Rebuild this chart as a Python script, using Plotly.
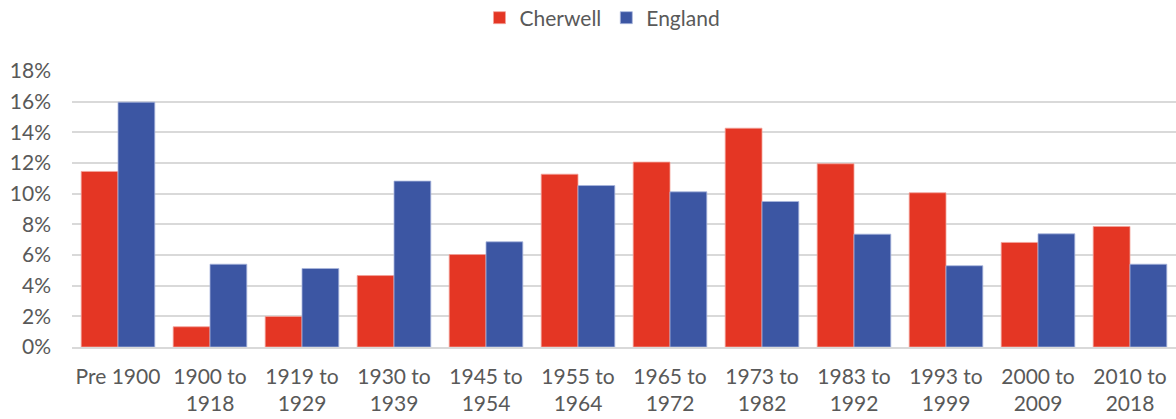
import plotly.graph_objects as go

categories = ["Pre 1900", "1900 to<br>1918", "1919 to<br>1929", "1930 to<br>1939", "1945 to<br>1954",
              "1955 to<br>1964", "1965 to<br>1972", "1973 to<br>1982", "1983 to<br>1992",
              "1993 to<br>1999", "2000 to<br>2009", "2010 to<br>2018"]
cherwell = [11.45, 1.32, 1.99, 4.66, 6.03, 11.27, 12.06, 14.27, 11.95, 10.06, 6.82, 7.86]
england = [15.97, 5.40, 5.12, 10.82, 6.86, 10.53, 10.12, 9.49, 7.36, 5.30, 7.38, 5.40]
y_ticks = [0, 2, 4, 6, 8, 10, 12, 14, 16, 18]

FONT = "Lato"
GREY = "#595959"
FS = 21

fig = go.Figure()
fig.add_trace(go.Bar(name="Cherwell", x=categories, y=cherwell,
                     marker=dict(color="#E43624", line=dict(color="#F3A39A", width=0.8))))
fig.add_trace(go.Bar(name="England", x=categories, y=england,
                     marker=dict(color="#3C56A3", line=dict(color="#A9B6DD", width=0.8))))

fig.update_layout(
    width=1176, height=419,
    margin=dict(l=72, r=0, t=71, b=72, autoexpand=False),
    paper_bgcolor="white", plot_bgcolor="white",
    barmode="group", bargap=0.2, bargroupgap=0,
    font=dict(family=FONT, size=FS, color=GREY),
    legend=dict(orientation="h", x=0.4805, xanchor="center", yref="container",
                y=0.957, yanchor="middle",
                font=dict(family=FONT, size=FS, color=GREY), itemwidth=30,
                traceorder="normal"),
    showlegend=True,
)
fig.update_xaxes(showgrid=False, showline=True, linecolor="#D9D9D9", linewidth=1.5,
                 ticks="", tickfont=dict(family=FONT, size=FS, color=GREY),
                 ticklabelstandoff=10, automargin=False)
fig.update_yaxes(range=[0, 18], tickvals=y_ticks, ticktext=[f"{v}%" for v in y_ticks],
                 showgrid=True, gridcolor="#D9D9D9", gridwidth=1.5, zeroline=False,
                 showline=False, ticks="", tickfont=dict(family=FONT, size=FS, color=GREY),
                 ticklabelstandoff=20, automargin=False)

fig.write_html("out.html",
               config={"displayModeBar": False},
               post_script="document.body.style.margin='0';document.body.style.overflow='hidden';")
